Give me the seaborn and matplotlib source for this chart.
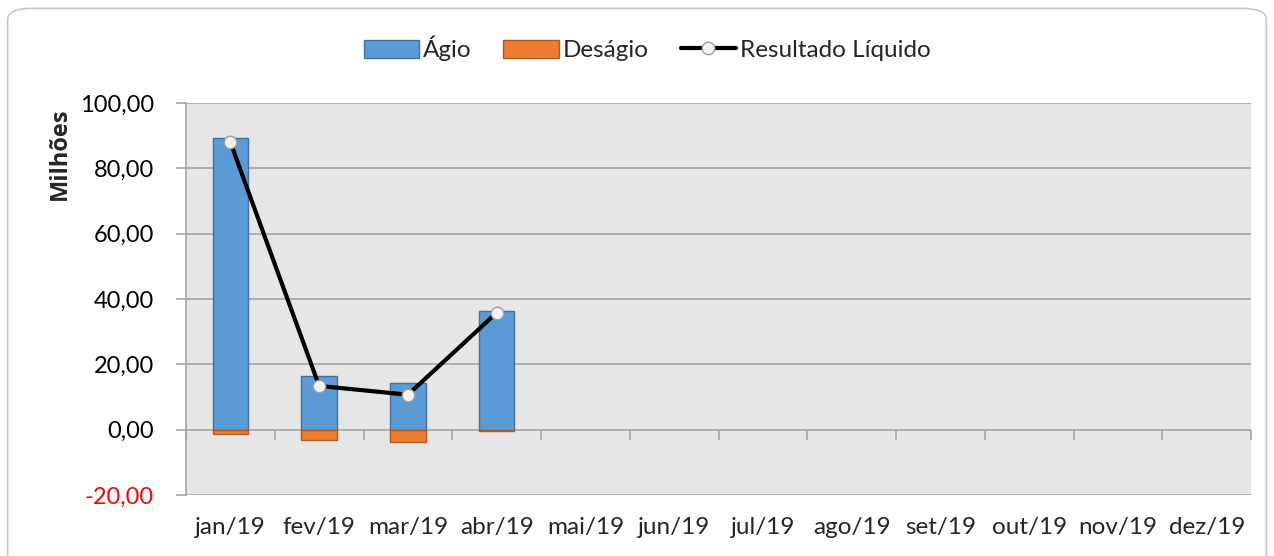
import pandas as pd
import matplotlib.pyplot as plt
import seaborn as sns
import numpy as np
from matplotlib.patches import FancyBboxPatch, Patch
from matplotlib.lines import Line2D
from matplotlib.ticker import FuncFormatter

# Dados (em milhões)
months = ['jan/19', 'fev/19', 'mar/19', 'abr/19', 'mai/19', 'jun/19',
          'jul/19', 'ago/19', 'set/19', 'out/19', 'nov/19', 'dez/19']
data_months = ['jan/19', 'fev/19', 'mar/19', 'abr/19']
agio = [89.3, 16.5, 14.4, 36.4]
desagio = [-1.4, -3.1, -3.7, -0.4]
resultado = [88.0, 13.4, 10.7, 35.8]
y_ticks = [-20, 0, 20, 40, 60, 80, 100]

df = pd.DataFrame({'Mes': data_months, 'Agio': agio,
                   'Desagio': desagio, 'Resultado': resultado})

sns.set_theme(style="white")
plt.rcParams['font.family'] = ['Lato', 'DejaVu Sans']

fig = plt.figure(figsize=(12.74, 5.56), dpi=100)
# moldura arredondada
frame = FancyBboxPatch((0.006, -0.05), 0.988, 1.035, transform=fig.transFigure,
                       boxstyle="round,pad=0,rounding_size=0.02",
                       facecolor='none', edgecolor='#c8c8c8', linewidth=1.2,
                       zorder=-1)
fig.patches.append(frame)

ax = fig.add_axes([0.146, 0.1097, 0.836, 0.705])
ax.set_facecolor('#e6e6e6')

blue, blue_edge = '#5b9bd5', '#41719c'
orange, orange_edge = '#ed7d31', '#ae5a21'

sns.barplot(data=df, x='Mes', y='Agio', order=months, color=blue, width=0.4,
            saturation=1, edgecolor=blue_edge, linewidth=1, ax=ax, zorder=3)
sns.barplot(data=df, x='Mes', y='Desagio', order=months, color=orange, width=0.4,
            saturation=1, edgecolor=orange_edge, linewidth=1, ax=ax, zorder=3)

pos = [months.index(m) for m in data_months]
sns.lineplot(x=pos, y=resultado, color='black', linewidth=3, marker='o',
             markersize=9, markerfacecolor='#f2f2f2', markeredgecolor='#a0a0a0',
             markeredgewidth=1, ax=ax, zorder=4)

ax.set_xlim(-0.5, 11.5)
ax.set_ylim(-20, 100)
ax.set_yticks(y_ticks)
ax.yaxis.set_major_formatter(FuncFormatter(lambda v, p: f"{v:.2f}".replace('.', ',')))
for v in [-20, 20, 40, 60, 80, 100]:
    ax.axhline(v, color='#a6a6a6', linewidth=1.2, zorder=1)
ax.axhline(0, color='#a6a6a6', linewidth=1.2, zorder=2)

for s in ['top', 'right', 'bottom']:
    ax.spines[s].set_visible(False)
ax.spines['left'].set_color('#a6a6a6')
ax.spines['left'].set_linewidth(1.2)

ax.tick_params(axis='y', left=True, length=7, width=1.2, color='#a6a6a6',
               labelsize=17, labelcolor='black', pad=16)
ax.tick_params(axis='x', bottom=False, length=0, labelsize=17.5, pad=16)
ax.get_yticklabels()[0].set_color('red')

# marcas de categoria sobre a linha do zero
sec = ax.secondary_xaxis(20 / 120)
sec.set_xticks(np.arange(-0.5, 12, 1))
sec.tick_params(axis='x', direction='out', length=7, width=1.2, color='#a6a6a6',
                labelbottom=False, labeltop=False)
sec.spines['bottom'].set_visible(False)
sec.spines['top'].set_visible(False)

ax.set_xlabel('')
ax.set_ylabel('Milhões', fontsize=17, fontweight='bold',
              family=['Open Sans', 'DejaVu Sans'])
ax.yaxis.set_label_coords(-0.107, 0.87)

handles = [Patch(facecolor=blue, edgecolor=blue_edge, label='Ágio'),
           Patch(facecolor=orange, edgecolor=orange_edge, label='Deságio'),
           Line2D([0], [0], color='black', linewidth=3, marker='o', markersize=9,
                  markerfacecolor='#f2f2f2', markeredgecolor='#a0a0a0',
                  label='Resultado Líquido')]
fig.legend(handles=handles, loc='center', bbox_to_anchor=(0.508, 0.913), ncol=3,
           frameon=False, fontsize=17.5, handlelength=2.3, handleheight=0.75,
           handletextpad=0.15, columnspacing=1.3)

fig.savefig('out.png', dpi=100)
